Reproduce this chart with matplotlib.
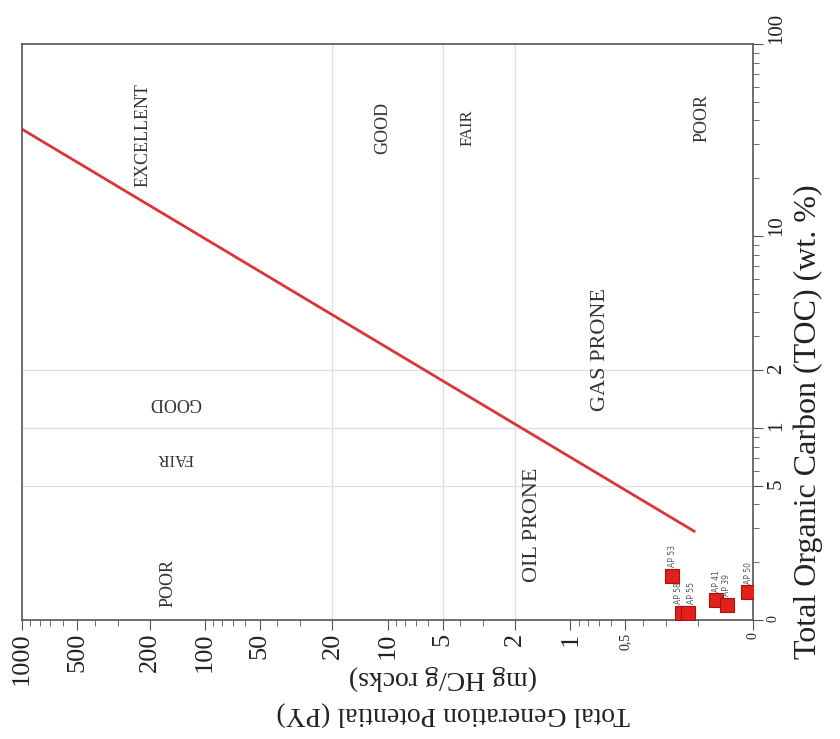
import matplotlib
matplotlib.use('Agg')
import matplotlib.pyplot as plt
import matplotlib.ticker as ticker
import numpy as np

plt.rcParams['font.family'] = ['Liberation Serif', 'DejaVu Serif']

# oil prone / gas prone dividing line (PY, TOC)
line_py = [1000, 0.21]
line_toc = [36, 0.29]

# samples
samples = ['AP 53', 'AP 58', 'AP 55', 'AP 41', 'AP 39', 'AP 50']
py = [0.277, 0.244, 0.227, 0.159, 0.139, 0.106]
toc = [0.170, 0.109, 0.109, 0.127, 0.120, 0.140]
# sideways nudge of the sample labels (points) so the close pair stays readable
label_dx = [0, -2.5, 2.5, 0, 0, 0]

py_ticks = [1000, 500, 200, 100, 50, 20, 10, 5, 2, 1, 0.5, 0.1]
py_labels = ['1000', '500', '200', '100', '50', '20', '10', '5', '2', '1', '0,5', '0']
toc_ticks = [100, 10, 2, 1, 0.5, 0.1]
toc_labels = ['100', '10', '2', '1', '5', '0']

py_grid = [20, 5, 2]
toc_grid = [2, 1, 0.5]

# zone names: text, x frac, y frac, rotation, size
zones = [
    ('EXCELLENT', 0.166, 0.842, 90, 13),
    ('GOOD', 0.494, 0.854, 90, 13),
    ('FAIR', 0.609, 0.854, 90, 12),
    ('POOR', 0.930, 0.872, 90, 13),
    ('GOOD', 0.209, 0.377, 180, 13),
    ('FAIR', 0.209, 0.281, 180, 12),
    ('POOR', 0.200, 0.064, 90, 13),
    ('OIL PRONE', 0.699, 0.165, 90, 16),
    ('GAS PRONE', 0.791, 0.469, 90, 16),
]

fig = plt.figure(figsize=(8.4, 7.39), dpi=100)
ax = fig.add_axes([22/840, 1 - 620/739, 731/840, 576/739])

ax.set_xscale('log')
ax.set_yscale('log')
ax.set_xlim(1000, 0.1)
ax.set_ylim(0.1, 100)

for v in py_grid:
    ax.axvline(v, color='#dedede', lw=0.9, zorder=0)
for h in toc_grid:
    ax.axhline(h, color='#dedede', lw=0.9, zorder=0)

ax.plot(line_py, line_toc, color='#dc3535', lw=2, zorder=2)
ax.plot(py, toc, 's', ms=9.5, mfc='#e3201b', mec='#a01512', mew=0.8, zorder=3)
for name, x, y, dx in zip(samples, py, toc, label_dx):
    ax.annotate(name, (x, y), xytext=(dx, 6), textcoords='offset points',
                rotation=90, ha='center', va='bottom', fontsize=5.5,
                family='DejaVu Sans', color='#555555')

for s, fx, fy, rot, size in zones:
    ax.text(fx, fy, s, transform=ax.transAxes, rotation=rot, ha='center',
            va='center', fontsize=size, color='#333333')

ax.yaxis.tick_right()
ax.set_xticks(py_ticks, py_labels)
ax.set_yticks(toc_ticks, toc_labels)
ax.xaxis.set_minor_locator(ticker.LogLocator(subs=np.arange(2, 10), numticks=20))
ax.yaxis.set_minor_locator(ticker.LogLocator(subs=np.arange(2, 10), numticks=20))
ax.xaxis.set_minor_formatter(ticker.NullFormatter())
ax.yaxis.set_minor_formatter(ticker.NullFormatter())

ax.tick_params(axis='x', which='major', labelsize=19, labelrotation=90,
               length=7, color='#555555', labelcolor='#222222', pad=2)
ax.tick_params(axis='x', which='minor', length=4, color='#555555')
ax.tick_params(axis='y', which='major', labelsize=15, labelrotation=90,
               length=7, color='#555555', labelcolor='#222222', pad=3)
ax.tick_params(axis='y', which='minor', length=4, color='#555555')

for lbl in ax.get_xticklabels():
    if lbl.get_text() in ('0', '0,5'):
        lbl.set_fontsize(10)
for lbl in ax.get_yticklabels():
    if lbl.get_text() == '0':
        lbl.set_fontsize(10)
    if lbl.get_text() in ('100', '10'):
        lbl.set_va('bottom')

for sp in ax.spines.values():
    sp.set_color('#555555')
    sp.set_linewidth(1.2)

fig.text(453/840, 1 - 713/739, 'Total Generation Potential (PY)', rotation=180,
         ha='center', va='center', fontsize=20, color='#222222')
fig.text(443/840, 1 - 678/739, '(mg HC/g rocks)', rotation=180,
         ha='center', va='center', fontsize=20, color='#222222')
fig.text(808/840, 1 - 422/739, 'Total Organic Carbon (TOC) (wt. %)', rotation=90,
         ha='center', va='center', fontsize=23, color='#222222')

fig.savefig('out.png', dpi=100)
